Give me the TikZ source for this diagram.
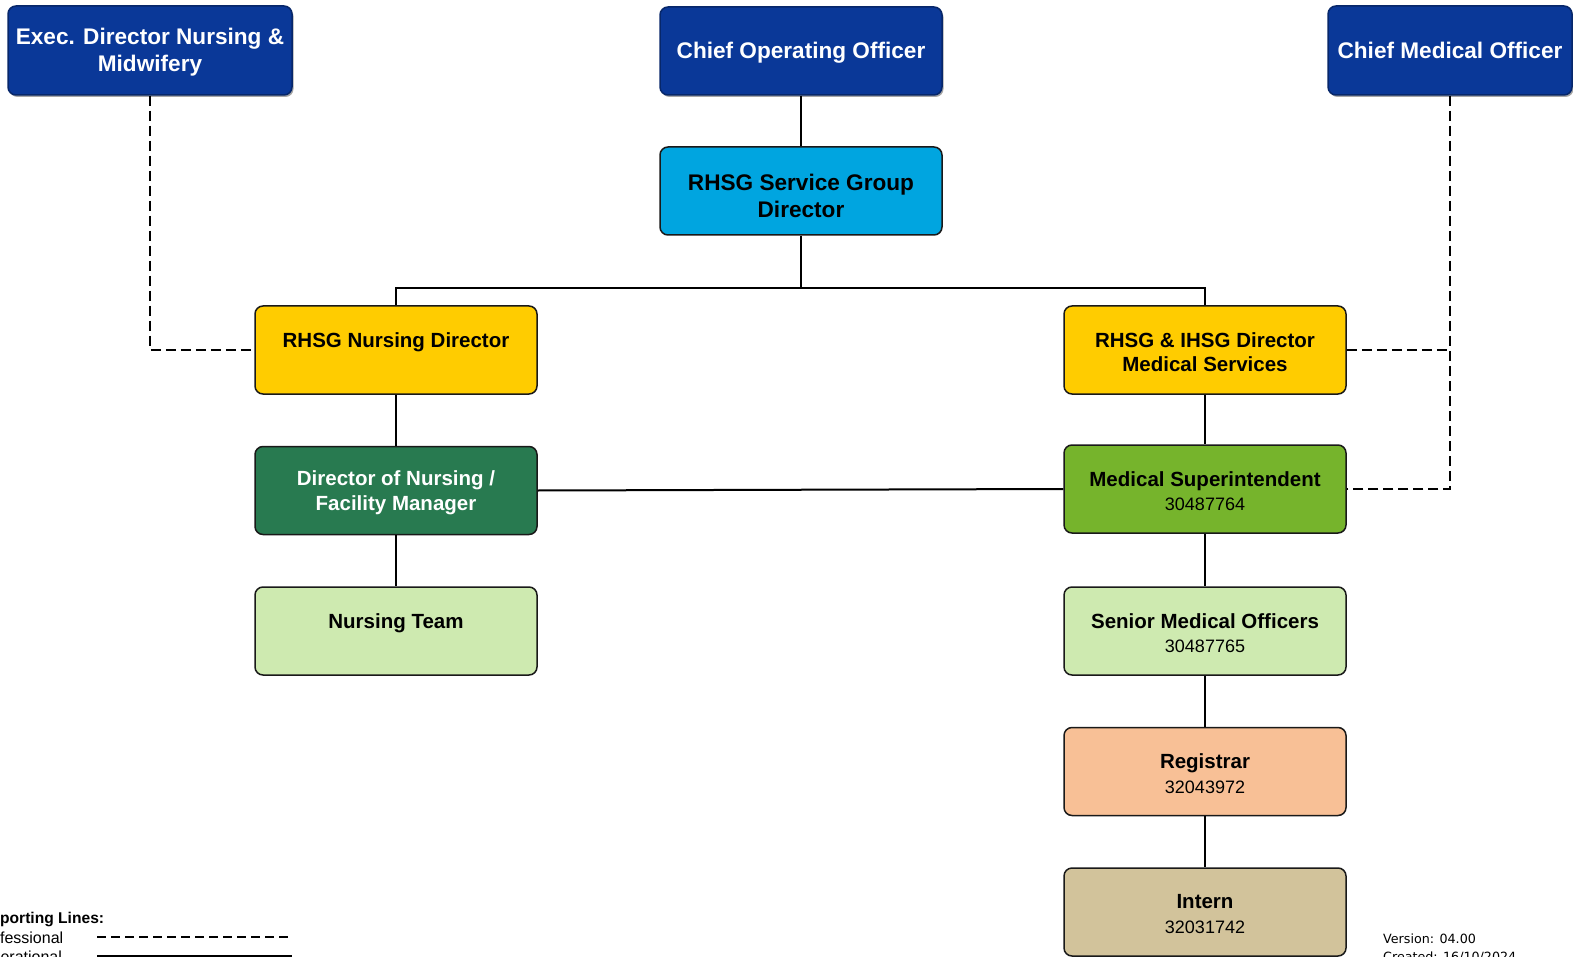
\documentclass[tikz,border=0pt]{standalone}
\usepackage{fontspec}
\setmainfont{Liberation Sans}
\newfontfamily\verfont{DejaVu Sans}
\usetikzlibrary{shadows}
\definecolor{navy}{RGB}{10,56,152}
\definecolor{cyanbox}{RGB}{0,165,224}
\definecolor{goldbox}{RGB}{255,204,0}
\definecolor{dkgreen}{RGB}{40,122,80}
\definecolor{grnbox}{RGB}{118,180,44}
\definecolor{ltgreen}{RGB}{206,234,176}
\definecolor{peach}{RGB}{248,192,150}
\definecolor{tan}{RGB}{210,195,155}
\newcommand{\idno}[1]{{\mdseries\fontsize{18}{22}\selectfont #1}}
\tikzset{
  box/.style={draw=black!90, line width=1.5pt, rounded corners=8pt,
    minimum width=282pt, minimum height=88pt, inner sep=0pt},
  topbox/.style={box, fill=navy, draw=navy!70!black,
    drop shadow={shadow xshift=1.5pt, shadow yshift=-2pt, fill=black, opacity=0.35}},
  boxtext/.style={align=center, inner sep=0pt, yshift=-2pt,
    font=\bfseries\fontsize{20.5}{24.5}\selectfont},
  bigtext/.style={boxtext, font=\bfseries\fontsize{22.6}{27}\selectfont},
  toptext/.style={bigtext, text=white},
  opline/.style={line width=2pt, draw=black},
  profline/.style={line width=2pt, draw=black, dash pattern=on 10pt off 5pt},
  legtext/.style={anchor=base west, inner sep=0pt, font=\fontsize{16}{19}\selectfont},
  vertext/.style={anchor=base west, inner sep=0pt, font=\verfont\fontsize{12.7}{15}\selectfont}
}
\begin{document}
\begin{tikzpicture}[x=1pt,y=-1pt]
\useasboundingbox (0,0) rectangle (1573,957);
\clip (0,0) rectangle (1573,957);
% top row
\node[topbox, minimum width=284pt, minimum height=89pt,
  label={[toptext]center:{Exec. Director Nursing \&\\Midwifery}}] (edn) at (150,50.5) {};
\node[topbox, label={[toptext, yshift=0.5pt]center:{Chief Operating Officer}}] (coo) at (801,51) {};
\node[topbox, minimum width=244pt, minimum height=89pt,
  label={[toptext, yshift=2.5pt]center:{Chief Medical Officer}}] (cmo) at (1450,50.5) {};
\node[box, fill=cyanbox, label={[bigtext, yshift=-3pt]center:{RHSG Service Group\\Director}}] (sgd) at (801,191) {};
% left column
\node[box, fill=goldbox, label={[boxtext]center:{RHSG Nursing Director\\\idno{\phantom{0}}}}] (rnd) at (396,350) {};
\node[box, fill=dkgreen, label={[boxtext, text=white]center:{Director of Nursing /\\Facility Manager}}] (dnf) at (396,490.5) {};
\node[box, fill=ltgreen, label={[boxtext]center:{Nursing Team\\\idno{\phantom{0}}}}] (nt) at (396,631) {};
% right column
\node[box, fill=goldbox, label={[boxtext]center:{RHSG \& IHSG Director\\Medical Services}}] (dms) at (1205,350) {};
\node[box, fill=grnbox, label={[boxtext]center:{Medical Superintendent\\\idno{30487764}}}] (ms) at (1205,489) {};
\node[box, fill=ltgreen, label={[boxtext]center:{Senior Medical Officers\\\idno{30487765}}}] (smo) at (1205,631) {};
\node[box, fill=peach, label={[boxtext]center:{Registrar\\\idno{32043972}}}] (reg) at (1205,771.5) {};
\node[box, fill=tan, label={[boxtext]center:{Intern\\\idno{32031742}}}] (int) at (1205,912) {};
% operational lines
\coordinate (bus) at (801,288);
\draw[opline] (coo) -- (sgd);
\draw[opline] (sgd.south) -- (bus) -| (rnd.north);
\draw[opline] (bus) -| (dms.north);
\draw[opline] (rnd) -- (dnf);
\draw[opline] (dnf) -- (nt);
\draw[opline] (dms) -- (ms);
\draw[opline] (ms) -- (smo);
\draw[opline] (smo) -- (reg);
\draw[opline] (reg) -- (int);
\draw[opline] (dnf.east) -- (ms.west);
% professional lines
\draw[profline] (edn.south) |- (rnd.west);
\draw[profline] (cmo.south) |- (ms.east);
\draw[profline] (dms.east) -- (dms.east -| cmo.south);
% legend
\node[legtext, font=\bfseries\fontsize{15.6}{18}\selectfont] (legt) at (-20,923) {Reporting Lines:};
\node[legtext] (legp) at (-25,943) {Professional};
\node[legtext] (lego) at (-21,962) {Operational};
\coordinate (lpa) at (97,937);
\coordinate (lpb) at (292,937);
\coordinate (loa) at (97,956);
\coordinate (lob) at (292,956);
\draw[profline, line width=1.5pt, dash pattern=on 9pt off 5pt] (lpa) -- (lpb);
\draw[opline, line width=3pt] (loa) -- (lob);
% version
\node[vertext] (ver) at (1383,943) {Version: 04.00};
\node[vertext] (cre) at (1383,961) {Created: 16/10/2024};
\end{tikzpicture}
\end{document}
